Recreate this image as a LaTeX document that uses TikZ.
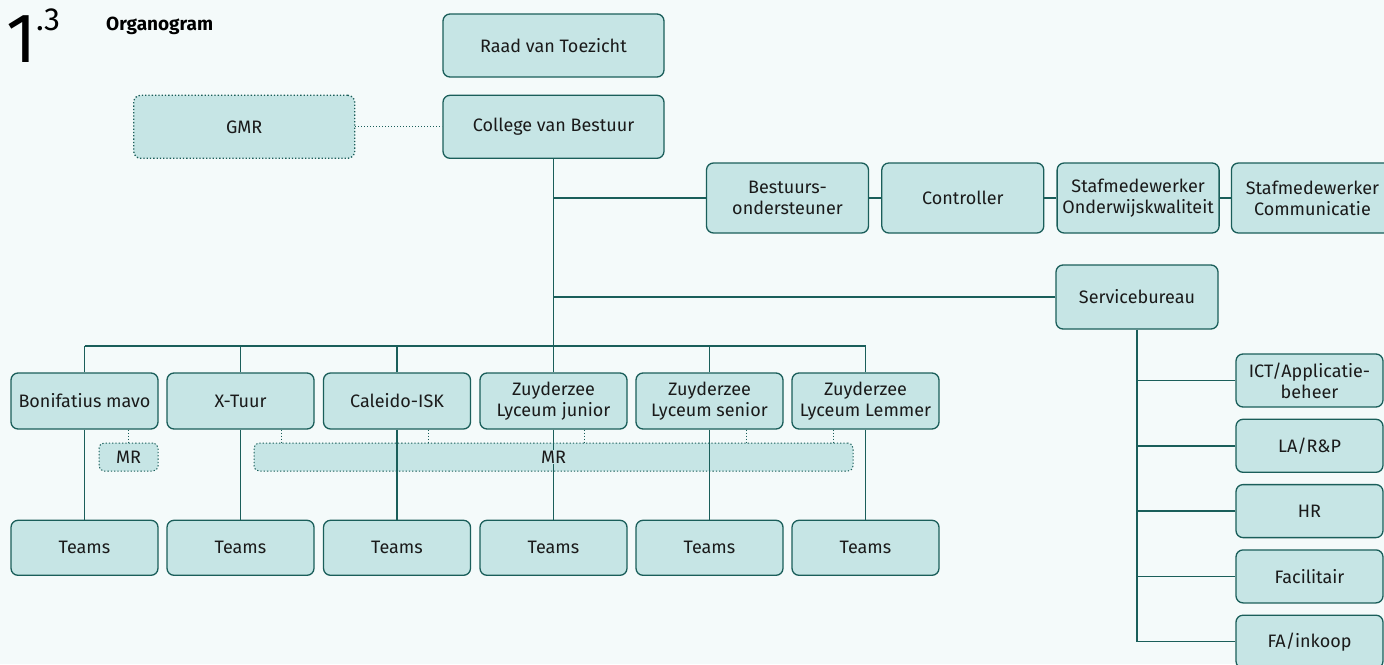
\documentclass[tikz,border=0pt]{standalone}
\usepackage{fontspec}
\setmainfont{Fira Sans}
\usetikzlibrary{positioning}

\definecolor{lijn}{HTML}{1A5E5A}
\definecolor{vak}{HTML}{C6E5E5}
\definecolor{achter}{HTML}{F4FAFA}
\definecolor{tekst}{HTML}{1A1A1A}

\tikzset{
  vakje/.style={draw=lijn, fill=vak, line width=1.3pt, rounded corners=7pt,
    align=center, inner sep=2pt, text=tekst, font=\fontsize{18}{21}\selectfont},
  bestuur/.style={vakje, minimum width=221pt, minimum height=63pt},
  staf/.style={vakje, minimum width=162pt, minimum height=70pt},
  school/.style={vakje, minimum width=147pt, minimum height=56pt},
  dienst/.style={vakje, minimum width=147pt, minimum height=53pt},
  mrbox/.style={vakje, dotted, line width=1pt, rounded corners=5pt, minimum height=28pt},
  verbind/.style={draw=lijn, line width=1.4pt},
  stip/.style={draw=lijn, line width=1pt, dotted},
}

\begin{document}
\begin{tikzpicture}[x=1pt, y=-1pt]
            \fill[achter] (0,0) rectangle (1384,664);
            \useasboundingbox (0,0) rectangle (1384,664);
            % titel
            \node (nr)    [anchor=base west, inner sep=0, font=\fontsize{70}{70}\selectfont] at (6,62) {1};
            \node (sub)   [anchor=north west, inner sep=0, font=\fontsize{32}{32}\selectfont] at (36,9) {.3};
            \node (titel) [anchor=base west, inner sep=0, font=\bfseries\fontsize{19}{19}\selectfont] at (106,30) {Organogram};
            % bestuur
            \node (rvt) [bestuur] at (553.5,45.5)      {Raad van Toezicht};
            \node (cvb) [bestuur, below=17pt of rvt]  {College van Bestuur};
            \node (gmr) [bestuur, dotted, left=87pt of cvb] {GMR};
            % staf
            \node (bo)    [staf] at (787.5,198)        {Bestuurs-\\ondersteuner};
            \node (ctrl)  [staf, right=12pt of bo]     {Controller};
            \node (swok)  [staf, right=12pt of ctrl]   {Stafmedewerker\\Onderwijskwaliteit};
            \node (swcom) [staf, right=11pt of swok]   {Stafmedewerker\\Communicatie};
            \node (sb)    [staf, minimum height=64pt] at (1137,297) {Servicebureau};
            % servicebureau
            \node (ict) [dienst] at (1309.5,380.5)     {ICT/Applicatie-\\beheer};
            \node (lrp) [dienst, below=11pt of ict]    {LA/R\&P};
            \node (hr)  [dienst, below=11pt of lrp]    {HR};
            \node (fac) [dienst, below=11pt of hr]     {Facilitair};
            \node (fa)  [dienst, below=11pt of fac]    {FA/inkoop};
            % scholen
            \node (bon) [school] at (84.5,401)         {Bonifatius mavo};
            \node (xt)  [school] at (240.5,401)        {X-Tuur};
            \node (cal) [school] at (397,401)          {Caleido-ISK};
            \node (zlj) [school] at (553.5,401)        {Zuyderzee\\Lyceum junior};
            \node (zls) [school] at (709.5,401)        {Zuyderzee\\Lyceum senior};
            \node (zll) [school] at (865.5,401)        {Zuyderzee\\Lyceum Lemmer};
            \node (t1) [school, minimum height=55pt, below=90pt of bon] {Teams};
            \node (t2) [school, minimum height=55pt, below=90pt of xt]  {Teams};
            \node (t3) [school, minimum height=55pt, below=90pt of cal] {Teams};
            \node (t4) [school, minimum height=55pt, below=90pt of zlj] {Teams};
            \node (t5) [school, minimum height=55pt, below=90pt of zls] {Teams};
            \node (t6) [school, minimum height=55pt, below=90pt of zll] {Teams};
            % medezeggenschap
            \node (mr1) [mrbox, minimum width=59pt] at (128.5,457) {MR};
            \node (mr)  [mrbox, minimum width=599pt] at (553.5,457) {};
            \coordinate (tak) at (553.5,346);
            % lijnen
            \draw[stip] (gmr.east) -- (cvb.west);
            \draw[verbind] (cvb.south) -- (tak);
            \draw[verbind] (bo.west) -- (bo.west -| cvb.south);
            \draw[verbind] (bo.east) -- (ctrl.west);
            \draw[verbind] (ctrl.east) -- (swok.west);
            \draw[verbind] (swok.east) -- (swcom.west);
            \draw[verbind] (sb.west) -- (sb.west -| cvb.south);
            \draw[verbind] (sb.south) -- (sb.south |- fa.west);
            \draw[verbind] (ict.west) -- (ict.west -| sb.south);
            \draw[verbind] (lrp.west) -- (lrp.west -| sb.south);
            \draw[verbind] (hr.west)  -- (hr.west -| sb.south);
            \draw[verbind] (fac.west) -- (fac.west -| sb.south);
            \draw[verbind] (fa.west)  -- (fa.west -| sb.south);
            \draw[verbind] (bon.north |- tak) -- (zll.north |- tak);
            \draw[verbind] (bon.north) -- (bon.north |- tak);
            \draw[verbind] (xt.north)  -- (xt.north |- tak);
            \draw[verbind] (cal.north) -- (cal.north |- tak);
            \draw[verbind] (zlj.north) -- (zlj.north |- tak);
            \draw[verbind] (zls.north) -- (zls.north |- tak);
            \draw[verbind] (zll.north) -- (zll.north |- tak);
            \draw[verbind] (bon.south) -- (t1.north);
            \draw[verbind] (xt.south)  -- (t2.north);
            \draw[verbind] (cal.south) -- (t3.north);
            \draw[verbind] (zlj.south) -- (t4.north);
            \draw[verbind] (zls.south) -- (t5.north);
            \draw[verbind] (zll.south) -- (t6.north);
            \draw[stip] (mr1.north |- bon.south) -- (mr1.north);
            \draw[stip] ([xshift=41pt]xt.south)   -- ([xshift=41pt]xt.south |- mr.north);
            \draw[stip] ([xshift=31pt]cal.south)  -- ([xshift=31pt]cal.south |- mr.north);
            \draw[stip] ([xshift=31pt]zlj.south)  -- ([xshift=31pt]zlj.south |- mr.north);
            \draw[stip] ([xshift=37pt]zls.south)  -- ([xshift=37pt]zls.south |- mr.north);
            \draw[stip] ([xshift=-32pt]zll.south) -- ([xshift=-32pt]zll.south |- mr.north);
            \node (mrtekst) [fill=vak, inner sep=1pt, text=tekst, font=\fontsize{18}{21}\selectfont] at (mr) {MR};
\end{tikzpicture}
\end{document}
